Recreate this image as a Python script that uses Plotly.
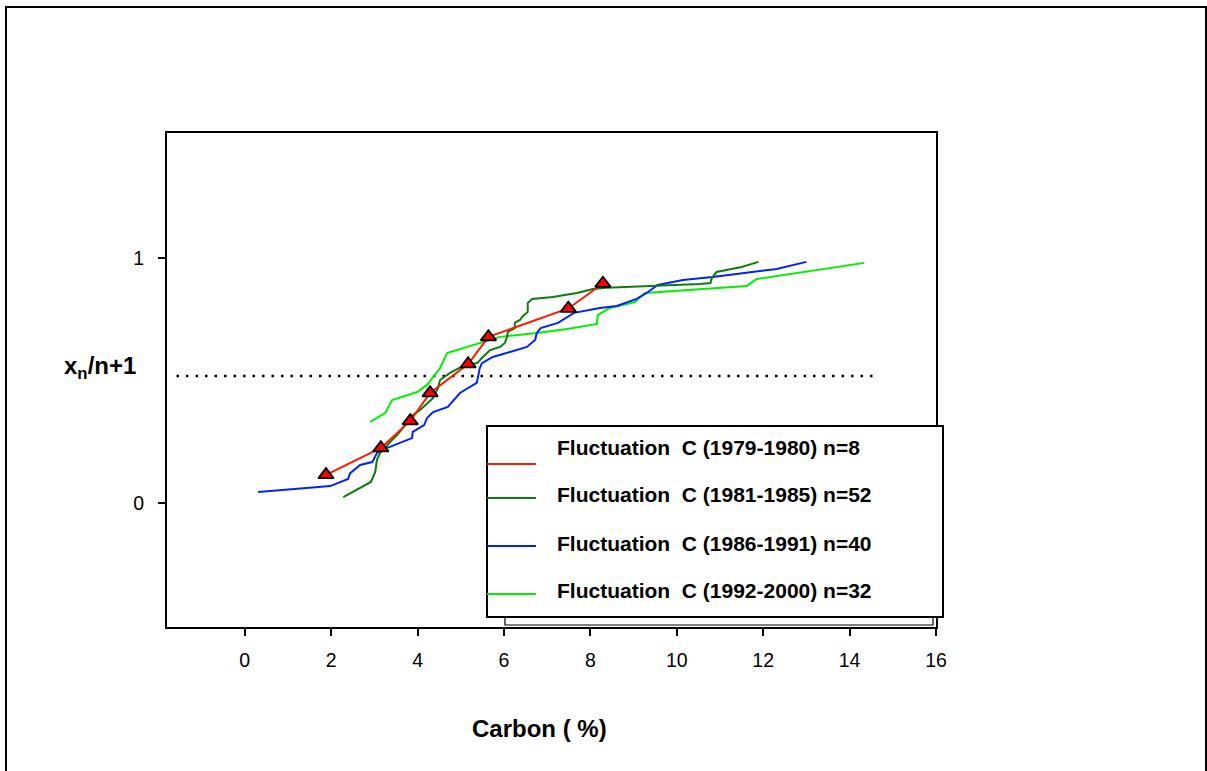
import plotly.graph_objects as go

FONT = "Liberation Sans, Arial, sans-serif"

# ---- data ----
SERIES_NAMES = [
    "Fluctuation\u00a0 C (1979-1980) n=8",
    "Fluctuation\u00a0 C (1981-1985) n=52",
    "Fluctuation\u00a0 C (1986-1991) n=40",
    "Fluctuation\u00a0 C (1992-2000) n=32",
]
SERIES_COLORS = ["#FF1A00", "#0A7D0A", "#0022FF", "#00F000"]

RED_X = [1.88, 3.15, 3.83, 4.29, 5.17, 5.64, 7.49, 8.29]
RED_Y = [0.115, 0.225, 0.335, 0.449, 0.567, 0.678, 0.794, 0.896]

DKG_X = [2.28, 2.90, 2.92, 3.02, 3.06, 3.13, 3.29, 3.41, 3.53, 3.66, 3.76, 3.83,
         4.06, 4.36, 4.47, 4.52, 4.75, 5.10, 5.38, 5.51, 5.68, 5.91, 6.02, 6.07,
         6.09, 6.25, 6.25, 6.37, 6.42, 6.48, 6.55, 6.55, 6.65, 7.13, 7.69, 8.06,
         8.38, 10.53, 10.78, 10.81, 10.92, 11.50, 11.89]
DKG_Y = [0.024, 0.082, 0.086, 0.127, 0.176, 0.204, 0.237, 0.257, 0.278, 0.306, 0.339, 0.351,
         0.380, 0.429, 0.469, 0.502, 0.531, 0.563, 0.571, 0.596, 0.624, 0.637, 0.653, 0.678,
         0.698, 0.714, 0.735, 0.747, 0.759, 0.767, 0.780, 0.816, 0.833, 0.841, 0.857, 0.873,
         0.878, 0.894, 0.898, 0.918, 0.943, 0.963, 0.984]

BLU_X = [0.31, 1.98, 2.39, 2.44, 2.67, 2.95, 3.06, 3.20, 3.36, 3.87, 3.89, 4.15,
         4.22, 4.36, 4.70, 4.98, 5.37, 5.44, 5.49, 5.74, 6.14, 6.53, 6.72, 6.76,
         6.85, 7.25, 7.62, 8.22, 8.61, 9.07, 9.30, 9.56, 10.14, 10.83, 12.31, 13.00]
BLU_Y = [0.045, 0.069, 0.098, 0.122, 0.155, 0.167, 0.204, 0.220, 0.229, 0.265, 0.290, 0.318,
         0.347, 0.371, 0.392, 0.449, 0.490, 0.551, 0.571, 0.596, 0.616, 0.637, 0.665, 0.694,
         0.714, 0.735, 0.776, 0.796, 0.804, 0.833, 0.857, 0.890, 0.910, 0.922, 0.955, 0.984]

LTG_X = [2.90, 3.25, 3.41, 3.99, 4.22, 4.36, 4.52, 4.68, 5.63, 5.91, 6.76, 7.46,
         8.15, 8.17, 8.45, 9.03, 9.26, 10.53, 11.62, 11.85, 14.34]
LTG_Y = [0.331, 0.367, 0.420, 0.453, 0.482, 0.514, 0.551, 0.612, 0.665, 0.678, 0.694, 0.710,
         0.731, 0.767, 0.796, 0.820, 0.857, 0.873, 0.886, 0.914, 0.980]

REF_X = [-1.58, 14.62]
REF_Y = [0.518, 0.518]

X_TICKS = [0, 2, 4, 6, 8, 10, 12, 14, 16]
Y_TICKS = [0, 1]
X_TITLE = "Carbon ( %)"
Y_TITLE = "x<sub>n</sub>/n+1"

# ---- layout geometry (pixels) ----
W, H = 1207, 771
L, R, T, B = 167, 936, 133, 627


def pxx(x):
    return (x - L) / (R - L)


def pxy(y):
    return (B - y) / (B - T)


fig = go.Figure()

fig.add_trace(go.Scatter(x=REF_X, y=REF_Y, mode="lines",
                         line=dict(color="black", width=2.5, dash="2.5px,7px"),
                         showlegend=False, hoverinfo="skip"))

for xs, ys, col in [(LTG_X, LTG_Y, SERIES_COLORS[3]),
                    (BLU_X, BLU_Y, SERIES_COLORS[2]),
                    (DKG_X, DKG_Y, SERIES_COLORS[1])]:
    fig.add_trace(go.Scatter(x=xs, y=ys, mode="lines",
                             line=dict(color=col, width=2), showlegend=False))

fig.add_trace(go.Scatter(x=RED_X, y=RED_Y, mode="lines+markers",
                         line=dict(color=SERIES_COLORS[0], width=2),
                         marker=dict(symbol="triangle-up", size=13.5, color="#FF0000",
                                     line=dict(color="black", width=1.8)),
                         showlegend=False))

shapes = []
annotations = []

# outer frame
shapes.append(dict(type="rect", xref="paper", yref="paper",
                   x0=pxx(6), x1=pxx(1206), y0=pxy(7), y1=pxy(790),
                   line=dict(color="black", width=2), layer="below"))

# legend box
shapes.append(dict(type="rect", xref="paper", yref="paper",
                   x0=pxx(505), x1=pxx(933), y0=pxy(440), y1=pxy(625),
                   line=dict(color="black", width=1.2), fillcolor="white", layer="above"))
shapes.append(dict(type="rect", xref="paper", yref="paper",
                   x0=pxx(487), x1=pxx(943), y0=pxy(426), y1=pxy(617),
                   line=dict(color="black", width=2), fillcolor="white", layer="above"))

text_y = [447, 494, 543, 590]
line_y = [464, 498, 546, 594]
for name, col, ty, ly in zip(SERIES_NAMES, SERIES_COLORS, text_y, line_y):
    shapes.append(dict(type="line", xref="paper", yref="paper",
                       x0=pxx(487), x1=pxx(536), y0=pxy(ly), y1=pxy(ly),
                       line=dict(color=col, width=2), layer="above"))
    annotations.append(dict(xref="paper", yref="paper", x=pxx(555), y=pxy(ty),
                            xanchor="left", yanchor="middle", showarrow=False,
                            text="<b>" + name + "</b>",
                            font=dict(family=FONT, size=21, color="black")))

annotations.append(dict(xref="paper", yref="paper", x=pxx(539.5), y=pxy(728),
                        xanchor="center", yanchor="middle", showarrow=False,
                        text="<b>" + X_TITLE + "</b>",
                        font=dict(family=FONT, size=24, color="black")))
annotations.append(dict(xref="paper", yref="paper", x=pxx(100), y=pxy(367),
                        xanchor="center", yanchor="middle", showarrow=False,
                        text="<b>" + Y_TITLE + "</b>",
                        font=dict(family=FONT, size=24, color="black")))

fig.update_layout(
    width=W, height=H,
    margin=dict(l=L, r=W - R, t=T, b=H - B, pad=0),
    paper_bgcolor="white", plot_bgcolor="white",
    showlegend=False,
    shapes=shapes, annotations=annotations,
    font=dict(family=FONT, color="black"),
)
fig.update_xaxes(range=[-1.8, 16.0], tickvals=X_TICKS, ticks="outside", ticklen=7,
                 tickwidth=2, tickcolor="black", showline=True, linewidth=2,
                 linecolor="black", mirror=True, showgrid=False, zeroline=False,
                 tickfont=dict(family=FONT, size=19.5, color="black"),
                 ticklabelstandoff=8)
fig.update_yaxes(range=[-0.506, 1.510], tickvals=Y_TICKS, ticks="outside", ticklen=7,
                 tickwidth=2, tickcolor="black", showline=True, linewidth=2,
                 linecolor="black", mirror=True, showgrid=False, zeroline=False,
                 tickfont=dict(family=FONT, size=19.5, color="black"),
                 ticklabelstandoff=10)

fig.write_html("out.html")
